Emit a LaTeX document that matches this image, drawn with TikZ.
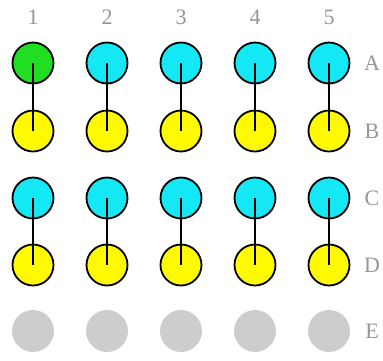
\documentclass[tikz,border=0pt]{standalone}
\usepackage{fontspec}
\setmainfont{Liberation Serif}
\definecolor{dotgreen}{RGB}{34,222,34}
\definecolor{dotcyan}{RGB}{20,232,245}
\definecolor{dotyellow}{RGB}{255,250,0}
\definecolor{dotgray}{RGB}{205,205,205}
\definecolor{labgray}{RGB}{150,150,150}
\tikzset{
  dot/.style={circle, draw=black, line width=1.8pt, minimum size=41pt, inner sep=0pt},
  gdot/.style={dot, fill=dotgreen},
  cdot/.style={dot, fill=dotcyan},
  ydot/.style={dot, fill=dotyellow},
  edot/.style={circle, draw=none, fill=dotgray, minimum size=42pt, inner sep=0pt},
  lab/.style={text=labgray, font=\fontsize{22}{22}\selectfont, inner sep=0pt},
  link/.style={line width=1.6pt, black}
}
\begin{document}
\begin{tikzpicture}[x=1pt,y=-1pt]
\useasboundingbox (0,0) rectangle (383,360);
% column numbers
\foreach \i/\x in {1/33,2/107,3/181,4/255,5/329}{
  \node[lab] (n\i) at (\x,17) {\i};
}
% row letters
\foreach \r/\y in {A/63,B/131,C/198,D/265,E/331}{
  \node[lab] (l\r) at (372,\y) {\r};
}
% circles
\node[gdot] (c1A) at (33,63) {};
\foreach \i/\x in {2/107,3/181,4/255,5/329}{
  \node[cdot] (c\i A) at (\x,63) {};
}
\foreach \i/\x in {1/33,2/107,3/181,4/255,5/329}{
  \node[ydot] (c\i B) at (\x,131) {};
  \node[cdot] (c\i C) at (\x,198) {};
  \node[ydot] (c\i D) at (\x,265) {};
  \node[edot] (c\i E) at (\x,331) {};
}
% links
\foreach \i in {1,...,5}{
  \draw[link] (c\i A.center) -- (c\i B.center);
  \draw[link] (c\i C.center) -- (c\i D.center);
}
\end{tikzpicture}
\end{document}
